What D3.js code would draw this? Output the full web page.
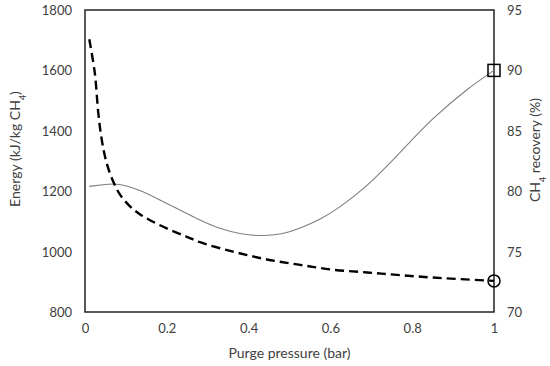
<!DOCTYPE html>
<html><head><meta charset="utf-8">
<script src="https://cdn.jsdelivr.net/npm/d3@7"></script>
<style>body{margin:0;background:#fff}svg{display:block}text{font-family:Lato,"Open Sans",sans-serif;fill:#404040}</style>
</head><body><svg id="c" width="550" height="366"></svg>
<script>
const xTicks=[0,0.2,0.4,0.6,0.8,1];
const xTickLabels=["0","0.2","0.4","0.6","0.8","1"];
const energyTicks=[800,1000,1200,1400,1600,1800];
const recoveryTicks=[70,75,80,85,90,95];
const energyX=[0.0105,0.024,0.0325,0.041,0.053,0.069,0.086,0.11,0.134,0.166,0.208,0.249,0.281,0.362,0.445,0.526,0.606,0.69,0.763,0.851,1.0];
const energyY=[1703,1591,1459,1370,1293,1232,1188,1150,1124,1099,1072,1049,1031,1000,974,956,940,931,923,914,903];
const recoveryX=[0.0105,0.049,0.085,0.134,0.183,0.232,0.281,0.330,0.379,0.428,0.477,0.526,0.575,0.623,0.69,0.77,0.851,0.934,1.0];
const recoveryY=[80.4,80.55,80.55,80.05,79.27,78.44,77.62,76.93,76.5,76.33,76.45,76.95,77.7,78.7,80.5,83.2,86.0,88.4,90];

const svg=d3.select("#c");
const L=85,R=494,T=10,B=312;
const x=d3.scaleLinear().domain([0,1]).range([L,R]);
const yE=d3.scaleLinear().domain([800,1800]).range([B,T]);
const yR=d3.scaleLinear().domain([70,95]).range([B,T]);

// axes
const ax=d3.axisBottom(x).tickValues(xTicks).tickFormat((d,i)=>xTickLabels[i]).tickSize(0).tickPadding(12);
const gx=svg.append("g").attr("transform",`translate(0,${B})`).call(ax);
const ay=d3.axisLeft(yE).tickValues(energyTicks).tickFormat(d3.format("d")).tickSize(0).tickPadding(13);
const gy=svg.append("g").attr("transform",`translate(${L},0)`).call(ay);
const ar=d3.axisRight(yR).tickValues(recoveryTicks).tickFormat(d3.format("d")).tickSize(0).tickPadding(13);
const gr=svg.append("g").attr("transform",`translate(${R},0)`).call(ar);
[gx,gy,gr].forEach(g=>{g.select(".domain").remove();g.selectAll("text").style("font-size","13px").attr("fill","#404040").style("font-family","Lato");});
gy.selectAll("text").attr("dy","0.35em");
gr.selectAll("text").attr("dy","0.35em");

// frame
svg.append("rect").attr("x",L).attr("y",T).attr("width",R-L).attr("height",B-T).attr("fill","none").attr("stroke","#222").attr("stroke-width",1.5);

// lines
const lineE=d3.line().x(d=>x(d[0])).y(d=>yE(d[1])).curve(d3.curveCatmullRom);
const lineR=d3.line().x(d=>x(d[0])).y(d=>yR(d[1])).curve(d3.curveNatural);
svg.append("path").datum(recoveryX.map((v,i)=>[v,recoveryY[i]])).attr("d",lineR).attr("fill","none").attr("stroke","#7f7f7f").attr("stroke-width",1.1);
svg.append("path").datum(energyX.map((v,i)=>[v,energyY[i]])).attr("d",lineE).attr("fill","none").attr("stroke","#000").attr("stroke-width",2.4).attr("stroke-dasharray","9,5");

// markers
const n=energyX.length-1;
svg.append("circle").attr("cx",x(energyX[n])).attr("cy",yE(energyY[n])).attr("r",6).attr("fill","none").attr("stroke","#000").attr("stroke-width",1.5);
const m=recoveryX.length-1;
svg.append("rect").attr("x",x(recoveryX[m])-6).attr("y",yR(recoveryY[m])-6).attr("width",12).attr("height",12).attr("fill","none").attr("stroke","#000").attr("stroke-width",1.5);

// titles
svg.append("text").attr("x",(L+R)/2).attr("y",358).attr("text-anchor","middle").style("font-size","14px").text("Purge pressure (bar)");
const ty=svg.append("text").attr("transform",`translate(20,149) rotate(-90)`).attr("text-anchor","middle").style("font-size","14px");
ty.append("tspan").text("Energy (kJ/kg CH");
ty.append("tspan").attr("baseline-shift","sub").style("font-size","9px").text("4");
ty.append("tspan").text(")");
const tr=svg.append("text").attr("transform",`translate(540,150) rotate(-90)`).attr("text-anchor","middle").style("font-size","14px");
tr.append("tspan").text("CH");
tr.append("tspan").attr("baseline-shift","sub").style("font-size","9px").text("4");
tr.append("tspan").text(" recovery (%)");
</script></body></html>
